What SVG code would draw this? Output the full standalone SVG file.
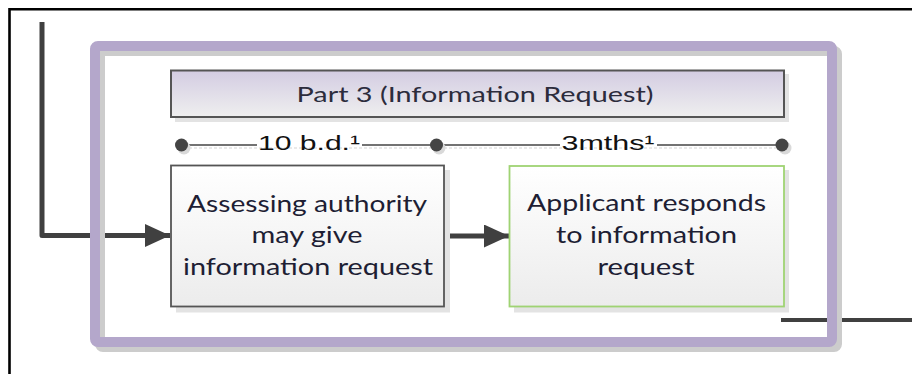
<svg xmlns="http://www.w3.org/2000/svg" width="912" height="374" viewBox="0 0 912 374">
  <defs>
    <linearGradient id="gTitle" x1="0" y1="0" x2="0" y2="1">
      <stop offset="0" stop-color="#d3cce2"/>
      <stop offset="1" stop-color="#efefef"/>
    </linearGradient>
    <linearGradient id="gBox" x1="0" y1="0" x2="0" y2="1">
      <stop offset="0" stop-color="#ffffff"/>
      <stop offset="1" stop-color="#ececec"/>
    </linearGradient>
    <marker id="arrow" markerUnits="userSpaceOnUse" markerWidth="26" markerHeight="24" refX="25" refY="11.5" orient="auto">
      <path d="M0,0 L25,11.5 L0,23 Z" fill="#404040"/>
    </marker>
    <style>
      .conn { fill: none; stroke: #404040; stroke-width: 5; stroke-linejoin: round; }
      .shadow { fill: #e3e3e3; }
      .body { font-family: Lato, "Open Sans", "Liberation Sans", sans-serif; font-size: 24px; fill: #1e1e34; text-anchor: middle; }
      .title { font-family: Lato, "Open Sans", "Liberation Sans", sans-serif; font-size: 22px; fill: #2c2c3c; text-anchor: middle; }
      .tl { font-family: "Liberation Sans", Arial, sans-serif; font-size: 21px; fill: #111111; text-anchor: middle; }
      .tline { stroke: #444444; stroke-width: 1.5; }
      .tshadow { stroke: #e2e2e2; stroke-width: 1.5; stroke-dasharray: 3 2; }
      .dot { fill: #444444; }
      .dotsh { fill: #d9d9d9; }
    </style>
  </defs>

  <rect x="0" y="0" width="912" height="374" fill="#ffffff"/>
  <!-- outer black border -->
  <path d="M9.5,374 V9.2 H912" fill="none" stroke="#000000" stroke-width="2.6"/>

  <!-- connectors -->
  <g id="connectors">
    <path class="conn" d="M42,22 V235.5 H170" marker-end="url(#arrow)"/>
    <path class="conn" d="M444,236 H509" marker-end="url(#arrow)"/>
    <path d="M781,320 H912" fill="none" stroke="#404040" stroke-width="4"/>
  </g>

  <!-- purple frame -->
  <g id="frame">
    <rect x="100" y="51" width="737" height="296" rx="3" fill="none" stroke="#cccccc" stroke-width="10"/>
    <rect x="95" y="46" width="737" height="296" rx="3" fill="none" stroke="#b4a7cb" stroke-width="10"/>
  </g>

  <!-- title -->
  <g id="title">
    <rect class="shadow" x="175" y="74" width="614" height="48"/>
    <rect x="171" y="70.5" width="613" height="46.5" fill="url(#gTitle)" stroke="#555555" stroke-width="2"/>
    <text class="title" x="475" y="102" textLength="357" lengthAdjust="spacingAndGlyphs">Part 3 (Information Request)</text>
  </g>

  <!-- timeline -->
  <g id="timeline">
    <line class="tshadow" x1="184" y1="148" x2="785" y2="148"/>
    <line class="tline" x1="181" y1="145" x2="257" y2="145"/>
    <line class="tline" x1="362" y1="145" x2="560" y2="145"/>
    <line class="tline" x1="657" y1="145" x2="782" y2="145"/>
    <circle class="dotsh" cx="184" cy="148" r="6.5"/>
    <circle class="dotsh" cx="439" cy="148" r="6.5"/>
    <circle class="dotsh" cx="785" cy="148" r="6.5"/>
    <circle class="dot" cx="181.5" cy="145" r="6.5"/>
    <circle class="dot" cx="436.5" cy="145" r="6.5"/>
    <circle class="dot" cx="782" cy="145" r="6.5"/>
    <text class="tl" x="309" y="149.5" textLength="102" lengthAdjust="spacingAndGlyphs">10 b.d.¹</text>
    <text class="tl" x="608" y="149.5" textLength="93" lengthAdjust="spacingAndGlyphs">3mths¹</text>
  </g>

  <!-- node 1 -->
  <g id="node-assessing">
    <rect class="shadow" x="176" y="170" width="274" height="142.5"/>
    <rect x="171" y="165.5" width="273" height="141" fill="url(#gBox)" stroke="#555555" stroke-width="1.8"/>
    <text class="body" x="307" y="211.5" textLength="240" lengthAdjust="spacingAndGlyphs">Assessing authority</text>
    <text class="body" x="307" y="243" textLength="111" lengthAdjust="spacingAndGlyphs">may give</text>
    <text class="body" x="308" y="275" textLength="250" lengthAdjust="spacingAndGlyphs">information request</text>
  </g>

  <!-- node 2 -->
  <g id="node-applicant">
    <rect class="shadow" x="514" y="170" width="275" height="142.5"/>
    <rect x="509.5" y="166" width="274.5" height="140.5" fill="url(#gBox)" stroke="#9fd373" stroke-width="1.8"/>
    <text class="body" x="646.5" y="211" textLength="239" lengthAdjust="spacingAndGlyphs">Applicant responds</text>
    <text class="body" x="646.5" y="243" textLength="181" lengthAdjust="spacingAndGlyphs">to information</text>
    <text class="body" x="646" y="275" textLength="97" lengthAdjust="spacingAndGlyphs">request</text>
  </g>
</svg>
